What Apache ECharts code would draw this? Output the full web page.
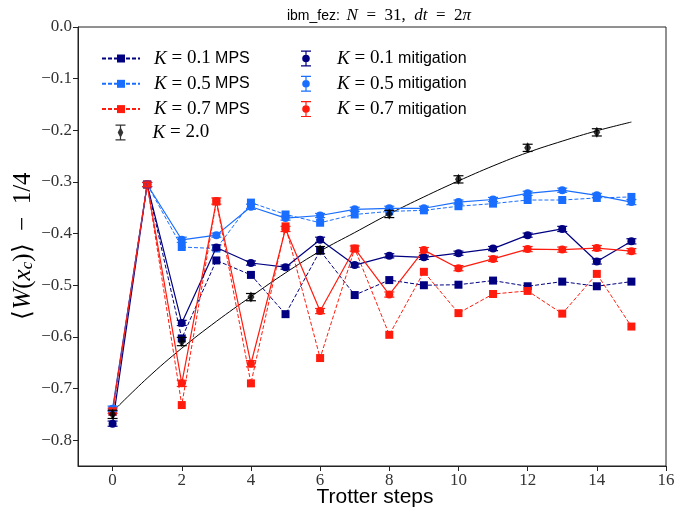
<!DOCTYPE html>
<html>
<head>
<meta charset="utf-8">
<script src="https://cdn.jsdelivr.net/npm/echarts@6/dist/echarts.min.js"></script>
<style>
    html, body {margin: 0; padding: 0; background: #fff;}
    #chart {width: 681px; height: 508px;}
</style>
</head>
<body>
<div id="chart"></div>
<script>
// Trotter steps
const steps = [0, 1, 2, 3, 4, 5, 6, 7, 8, 9, 10, 11, 12, 13, 14, 15];
// MPS results
const mps01 = [-0.745, -0.305, -0.603, -0.452, -0.480, -0.556, -0.433, -0.519, -0.490, -0.500, -0.499, -0.491, -0.502, -0.493, -0.502, -0.493];
const mps05 = [-0.742, -0.305, -0.426, -0.429, -0.340, -0.363, -0.379, -0.363, -0.357, -0.355, -0.347, -0.342, -0.335, -0.335, -0.331, -0.329];
const mps07 = [-0.745, -0.305, -0.732, -0.338, -0.690, -0.386, -0.641, -0.429, -0.596, -0.474, -0.554, -0.517, -0.511, -0.555, -0.478, -0.580];
// mitigated hardware results
const mit01 = [-0.768, -0.305, -0.573, -0.427, -0.457, -0.465, -0.412, -0.461, -0.443, -0.446, -0.438, -0.429, -0.403, -0.391, -0.454, -0.415];
const mit05 = [-0.739, -0.305, -0.412, -0.403, -0.348, -0.370, -0.365, -0.353, -0.351, -0.351, -0.339, -0.334, -0.322, -0.316, -0.326, -0.339];
const mit07 = [-0.743, -0.305, -0.690, -0.337, -0.652, -0.391, -0.550, -0.429, -0.518, -0.432, -0.467, -0.449, -0.430, -0.431, -0.428, -0.434];
const mit01Err = [0.005, 0.004, 0.005, 0.005, 0.004, 0.004, 0.005, 0.004, 0.004, 0.004, 0.004, 0.004, 0.004, 0.005, 0.005, 0.005];
const mit05Err = [0.005, 0.004, 0.005, 0.004, 0.005, 0.004, 0.004, 0.004, 0.004, 0.004, 0.004, 0.004, 0.004, 0.004, 0.004, 0.005];
const mit07Err = [0.005, 0.004, 0.006, 0.006, 0.006, 0.005, 0.005, 0.005, 0.005, 0.005, 0.005, 0.005, 0.005, 0.005, 0.005, 0.005];
// K = 2.0
const k2Steps = [0, 2, 4, 6, 8, 10, 12, 14];
const k2 = [-0.750, -0.609, -0.523, -0.432, -0.362, -0.295, -0.234, -0.204];
const k2Err = [0.008, 0.008, 0.007, 0.007, 0.007, 0.007, 0.007, 0.007];
// black reference curve
const curve = [-0.745, -0.680, -0.622, -0.570, -0.522, -0.476, -0.434, -0.398, -0.362, -0.329, -0.298, -0.269, -0.243, -0.221, -0.201, -0.184];
// ticks
const xTicks = [0, 2, 4, 6, 8, 10, 12, 14, 16];
const yTicks = [0, -0.1, -0.2, -0.3, -0.4, -0.5, -0.6, -0.7, -0.8];

const NAVY = '#000080';
const BLUE = '#1a6eff';
const RED = '#ff1c0e';
const SERIF = 'Liberation Serif';
const SANS = 'Liberation Sans';

let pairs = (xs, ys) => xs.map((x, i) => [x, ys[i]]);

let mpsSeries = (name, ys, color) => ({
    name: name,
    type: 'line',
    data: pairs(steps, ys),
    symbol: 'rect',
    symbolSize: 8,
    z: 3,
    itemStyle: {color: color},
    lineStyle: {color: color, width: 1, type: [4, 2]},
    emphasis: {disabled: true}
});

let mitSeries = (name, ys, color) => ({
    name: name,
    type: 'line',
    data: pairs(steps, ys),
    symbol: 'circle',
    symbolSize: 8,
    z: 4,
    itemStyle: {color: color},
    lineStyle: {color: color, width: 1.2},
    emphasis: {disabled: true}
});

// vertical error bar with caps, drawn through the axes
let errSeries = (name, xs, ys, errs, color, z) => ({
    name: name,
    type: 'custom',
    z: z,
    data: xs.map((x, i) => [x, ys[i] - errs[i], ys[i] + errs[i]]),
    renderItem: (params, api) => {
        let lo = api.coord([api.value(0), api.value(1)]);
        let hi = api.coord([api.value(0), api.value(2)]);
        let style = {stroke: color, lineWidth: 1.2};
        let cap = 5;
        return {
            type: 'group',
            children: [
                {type: 'line', shape: {x1: lo[0], y1: lo[1], x2: hi[0], y2: hi[1]}, style: style},
                {type: 'line', shape: {x1: lo[0] - cap, y1: lo[1], x2: lo[0] + cap, y2: lo[1]}, style: style},
                {type: 'line', shape: {x1: hi[0] - cap, y1: hi[1], x2: hi[0] + cap, y2: hi[1]}, style: style}
            ]
        };
    }
});

const ibeam = 'M0,0 H10 V1.2 H5.6 V14.8 H10 V16 H0 V14.8 H4.4 V1.2 H0 Z';
const iconCircle = 'path://' + ibeam + ' M8.8,8 A3.8,3.8 0 1 1 1.2,8 A3.8,3.8 0 1 1 8.8,8 Z';
const iconDiamond = 'path://' + ibeam + ' M5,2.5 L7.8,8 L5,13.5 L2.2,8 Z';

let legendText = (name) => {
    let m = name.match(/^K = ([\d.]+)\s*(.*)$/);
    let s = '{k|K}{m| = ' + m[1] + '}';
    if (m[2]) {
        s += '{s| ' + m[2] + '}';
    }
    return s;
};
let legendRich = (pad) => ({
    k: {fontFamily: SERIF, fontStyle: 'italic', fontSize: 19, lineHeight: 20, color: '#000', padding: [0, 0, 0, pad]},
    m: {fontFamily: SERIF, fontSize: 19, lineHeight: 20, color: '#000'},
    s: {fontFamily: SANS, fontSize: 16, lineHeight: 20, color: '#000'}
});

let option = {
    animation: false,
    backgroundColor: '#fff',
    grid: {
        left: 78,
        right: 15,
        top: 27,
        bottom: 42,
        show: true,
        borderColor: '#222',
        borderWidth: 1,
        containLabel: false,
        outerBoundsMode: 'none'
    },
    legend: [
        {
            left: 101,
            top: 49,
            orient: 'vertical',
            padding: 0,
            itemWidth: 38,
            itemHeight: 10,
            itemGap: 6.3,
            selectedMode: false,
            data: ['K = 0.1 MPS', 'K = 0.5 MPS', 'K = 0.7 MPS'],
            formatter: legendText,
            textStyle: {rich: legendRich(9)}
        },
        {
            left: 115.5,
            top: 123,
            orient: 'vertical',
            padding: 0,
            itemWidth: 10,
            itemHeight: 16,
            selectedMode: false,
            data: [{name: 'K = 2.0', icon: iconDiamond}],
            formatter: legendText,
            textStyle: {rich: legendRich(22)}
        },
        {
            left: 301,
            top: 49,
            orient: 'vertical',
            padding: 0,
            itemWidth: 10,
            itemHeight: 16,
            itemGap: 6.3,
            selectedMode: false,
            data: [
                {name: 'K = 0.1 mitigation', icon: iconCircle},
                {name: 'K = 0.5 mitigation', icon: iconCircle},
                {name: 'K = 0.7 mitigation', icon: iconCircle}
            ],
            formatter: legendText,
            textStyle: {rich: legendRich(21)}
        }
    ],
    xAxis: {
        type: 'value',
        min: -1,
        max: 16,
        splitLine: {show: false},
        axisLine: {onZero: false, lineStyle: {color: '#222'}},
        axisTick: {customValues: xTicks, length: 5, lineStyle: {color: '#222'}},
        axisLabel: {
            customValues: xTicks,
            fontFamily: SERIF,
            fontSize: 17,
            color: '#333',
            margin: 6
        }
    },
    yAxis: {
        type: 'value',
        min: -0.85,
        max: 0,
        splitLine: {show: false},
        axisLine: {onZero: false, lineStyle: {color: '#222'}},
        axisTick: {customValues: yTicks, length: 5, lineStyle: {color: '#222'}},
        axisLabel: {
            customValues: yTicks,
            fontFamily: SERIF,
            fontSize: 17,
            color: '#333',
            margin: 6,
            formatter: (v) => v.toFixed(1).replace('-', '\u2212')
        }
    },
    graphic: [
        {
            type: 'text',
            x: 379,
            y: 16,
            style: {
                text: '{s|ibm_fez:}  {i|N}{r|  =  31,  }{i|dt}{r|  =  2}{i|\u03c0}',
                textAlign: 'center',
                textVerticalAlign: 'middle',
                rich: {
                    s: {fontFamily: SANS, fontSize: 14, fill: '#000'},
                    i: {fontFamily: SERIF, fontStyle: 'italic', fontSize: 17, fill: '#000'},
                    r: {fontFamily: SERIF, fontSize: 17, fill: '#000'}
                }
            }
        },
        {
            type: 'text',
            x: 22,
            y: 246,
            rotation: Math.PI / 2,
            style: {
                text: '{a|\u27e8}{i|W}{a|(}{i|x}{sub|c}{a|)\u27e9  \u2212  1/4}',
                textAlign: 'center',
                textVerticalAlign: 'middle',
                rich: {
                    a: {fontFamily: SERIF, fontSize: 25, lineHeight: 28, verticalAlign: 'bottom', fill: '#000'},
                    i: {fontFamily: SERIF, fontStyle: 'italic', fontSize: 25, lineHeight: 28, verticalAlign: 'bottom', fill: '#000'},
                    sub: {fontFamily: SERIF, fontStyle: 'italic', fontSize: 17, lineHeight: 18, verticalAlign: 'bottom', fill: '#000'}
                }
            }
        },
        {
            type: 'text',
            x: 375,
            y: 497,
            style: {
                text: 'Trotter steps',
                fontFamily: SANS,
                fontSize: 21,
                fill: '#000',
                textAlign: 'center',
                textVerticalAlign: 'middle'
            }
        }
    ],
    series: [
        {
            name: 'curve',
            type: 'line',
            data: pairs(steps, curve),
            smooth: 0.4,
            symbol: 'none',
            z: 2,
            lineStyle: {color: '#000', width: 1},
            emphasis: {disabled: true}
        },
        mpsSeries('K = 0.1 MPS', mps01, NAVY),
        mpsSeries('K = 0.5 MPS', mps05, BLUE),
        mpsSeries('K = 0.7 MPS', mps07, RED),
        mitSeries('K = 0.1 mitigation', mit01, NAVY),
        mitSeries('K = 0.5 mitigation', mit05, BLUE),
        mitSeries('K = 0.7 mitigation', mit07, RED),
        errSeries('K = 0.1 mitigation', steps, mit01, mit01Err, NAVY, 5),
        errSeries('K = 0.5 mitigation', steps, mit05, mit05Err, BLUE, 5),
        errSeries('K = 0.7 mitigation', steps, mit07, mit07Err, RED, 5),
        {
            name: 'K = 2.0',
            type: 'scatter',
            data: pairs(k2Steps, k2),
            symbol: 'diamond',
            symbolSize: [7, 11],
            z: 7,
            itemStyle: {color: '#000'},
            emphasis: {disabled: true}
        },
        errSeries('K = 2.0', k2Steps, k2, k2Err, '#000', 7)
    ]
};

let chart = echarts.init(document.getElementById('chart'));
chart.setOption(option);
</script>
</body>
</html>
